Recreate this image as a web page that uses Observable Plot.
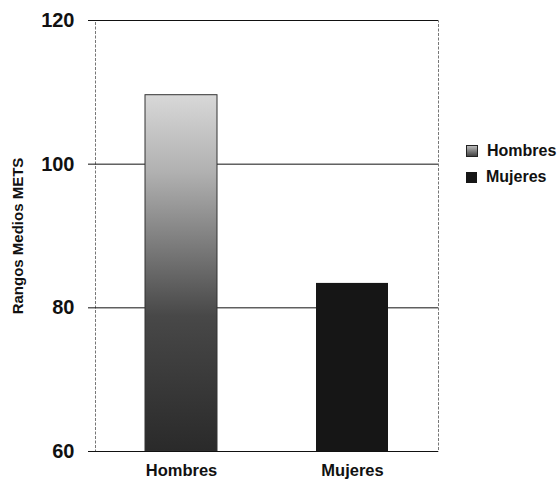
<!DOCTYPE html>
<html>
<head>
<meta charset="utf-8">
<script src="https://cdn.jsdelivr.net/npm/d3@7"></script>
<script src="https://cdn.jsdelivr.net/npm/@observablehq/plot@0.6"></script>
<style>
  html, body { margin: 0; padding: 0; background: #fff; }
  #wrap { position: relative; width: 557px; height: 482px; font-family: Arial, "Liberation Sans", sans-serif; }
  #wrap svg text { font-family: Arial, "Liberation Sans", sans-serif; }
  #legend { position: absolute; left: 466px; top: 138px; font-weight: bold; font-size: 16px; color: #111; }
  #legend div { display: flex; align-items: center; height: 26px; }
  #legend span.sw { display: inline-block; width: 11px; height: 11px; margin-right: 9px; }
</style>
</head>
<body>
<div id="wrap"></div>
<script>
const categories = ["Hombres", "Mujeres"];
const values = [109.6, 83.4];
const yTicks = [60, 80, 100, 120];
const gridValues = [80, 100];
const yLabel = "Rangos Medios METS";

const data = categories.map((c, i) => ({category: c, value: values[i]}));
const fills = {Hombres: "url(#gradH)", Mujeres: "#161616"};

const defs = () => {
  const ns = "http://www.w3.org/2000/svg";
  const d = document.createElementNS(ns, "defs");
  d.innerHTML = `
    <linearGradient id="gradH" x1="0" y1="0" x2="0" y2="1">
      <stop offset="0%" stop-color="#d8d8d8"/>
      <stop offset="22%" stop-color="#b0b0b0"/>
      <stop offset="42%" stop-color="#7c7c7c"/>
      <stop offset="62%" stop-color="#484848"/>
      <stop offset="100%" stop-color="#2a2a2a"/>
    </linearGradient>`;
  return d;
};

const chart = Plot.plot({
  width: 557,
  height: 482,
  marginLeft: 95,
  marginRight: 119,
  marginTop: 20,
  marginBottom: 31,
  style: {fontFamily: "Arial, 'Liberation Sans', sans-serif", background: "#fff", color: "#111"},
  x: {domain: categories, paddingInner: 0.58, paddingOuter: 0.29, label: null},
  y: {domain: [60, 120], label: null},
  marks: [
    defs,
    Plot.frame({stroke: "#777", strokeDasharray: "3,1.5", strokeWidth: 1}),
    Plot.ruleY(gridValues, {stroke: "#111", strokeWidth: 1}),
    Plot.barY(data, {
      x: "category", y1: () => 60, y2: "value",
      fill: d => fills[d.category],
      stroke: d => d.category === "Hombres" ? "#333" : "none",
      strokeWidth: 1
    }),
    Plot.ruleY([120], {stroke: "#111", strokeWidth: 1.2}),
    Plot.ruleY([60], {stroke: "#111", strokeWidth: 1.2}),
    Plot.axisY({ticks: yTicks, tickSize: 7, tickPadding: 14, fontSize: 20, fontWeight: "bold", label: null, stroke: "#111"}),
    Plot.axisX({tickSize: 0, tickPadding: 13, fontSize: 16.5, fontWeight: "bold", label: null}),
    Plot.text([yLabel], {frameAnchor: "left", dx: -77, rotate: -90, textAnchor: "middle", fontSize: 15, fontWeight: "bold", text: d => d, fill: "#111"})
  ]
});

const wrap = document.getElementById("wrap");
wrap.appendChild(chart);
const legend = document.createElement("div");
legend.id = "legend";
legend.innerHTML = `
  <div><span class="sw" style="background:linear-gradient(#bbb,#444);border:1px solid #222;width:10px;height:10px"></span>Hombres</div>
  <div><span class="sw" style="background:#161616"></span>Mujeres</div>`;
wrap.appendChild(legend);
</script>
</body>
</html>
